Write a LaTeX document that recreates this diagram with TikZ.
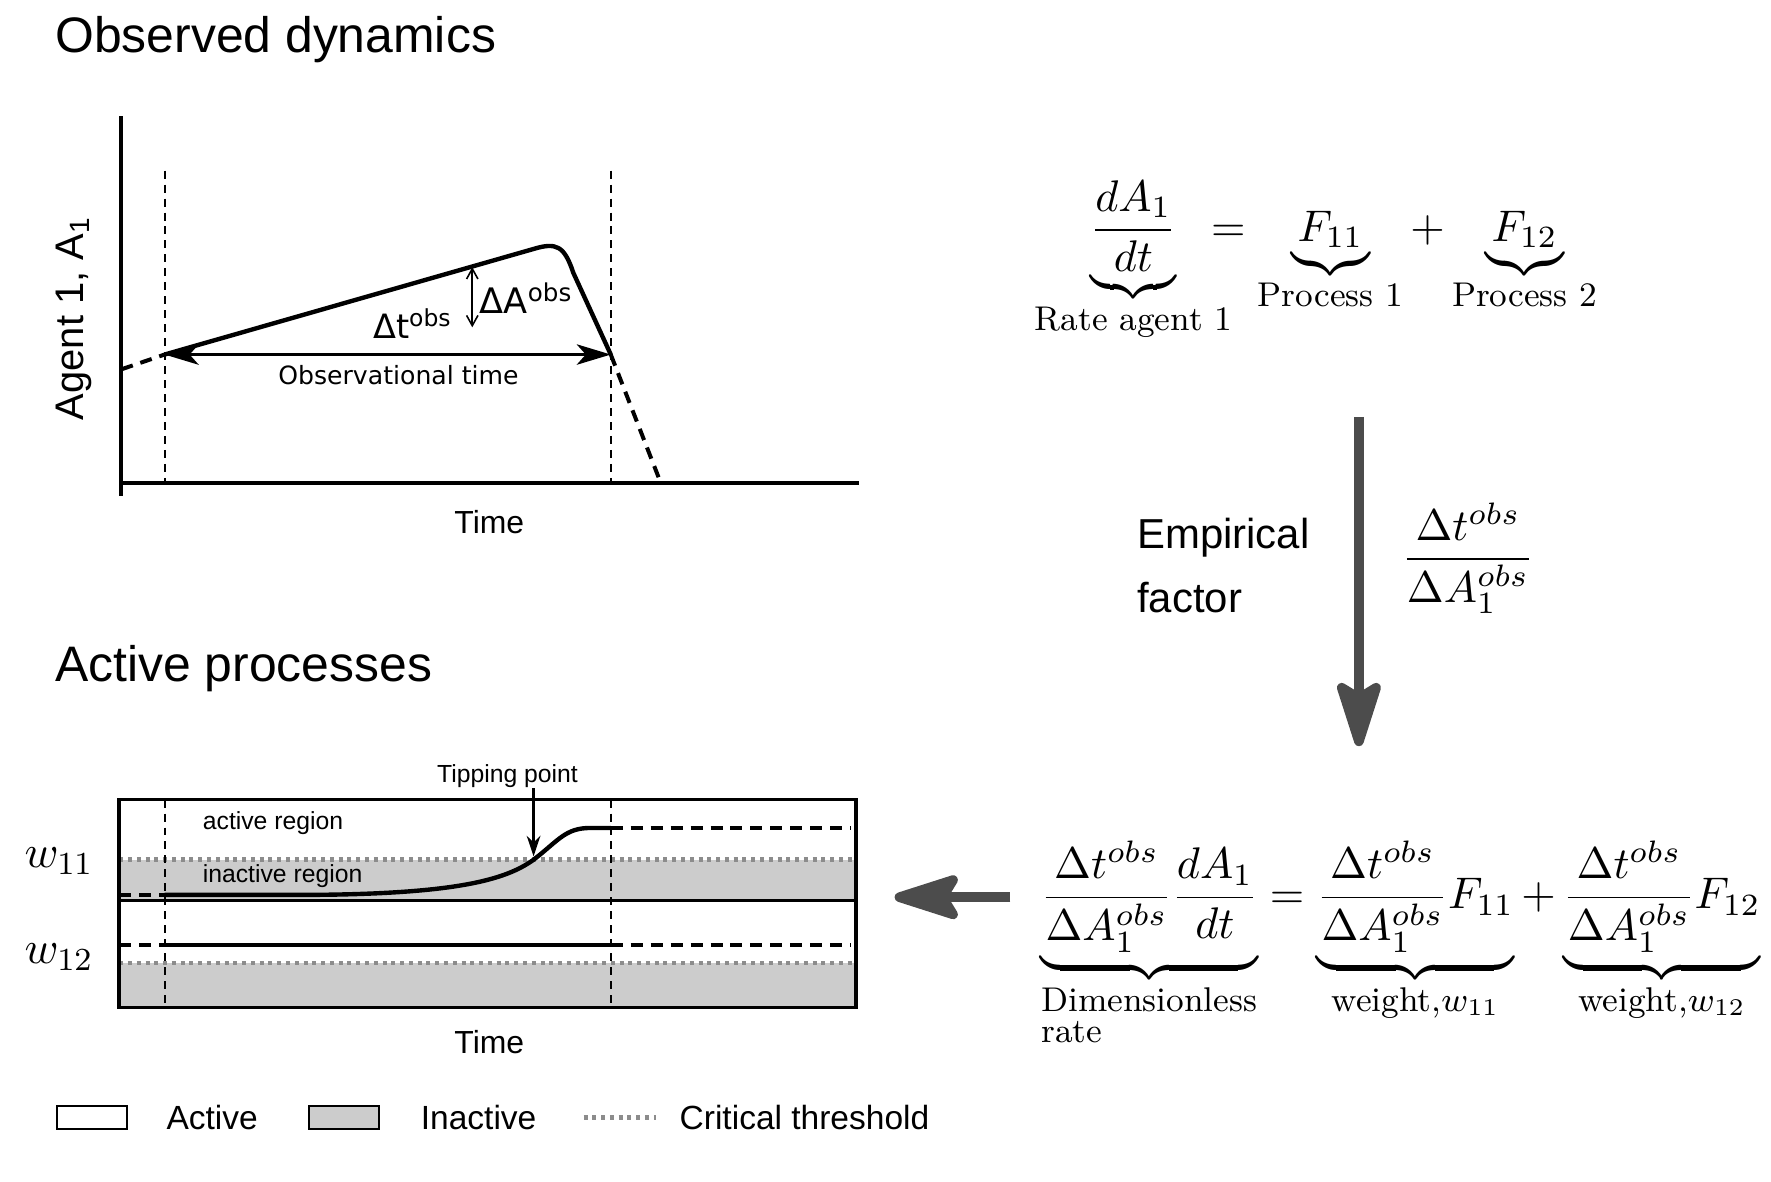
\RequirePackage{fix-cm}
\documentclass[tikz,border=0pt]{standalone}
\usepackage{amsmath}
\usepackage{mathtools}
\usepackage{fontspec}
\setsansfont{Liberation Sans}
\newfontfamily\dejavu{DejaVu Sans}
\usetikzlibrary{arrows.meta}
\tikzstyle{title}=[anchor=base west, inner sep=0pt, font=\sffamily\fontsize{12.5}{15}\selectfont]
\tikzstyle{lbl}=[inner sep=0pt, font=\sffamily\fontsize{6.2}{7.5}\selectfont]
\tikzstyle{dv}=[inner sep=0pt, font=\dejavu\fontsize{8.8}{10.5}\selectfont]
\tikzstyle{axlbl}=[inner sep=0pt, font=\sffamily\fontsize{8}{9.6}\selectfont]
\tikzstyle{leg}=[anchor=west, inner sep=0pt, font=\sffamily\fontsize{8.4}{10}\selectfont]
\tikzstyle{eq}=[inner sep=0pt, font=\fontsize{11.1}{13.5}\selectfont]
\tikzstyle{axis}=[line width=1pt]
\tikzstyle{frame}=[line width=.9pt]
\tikzstyle{guide}=[line width=.45pt, dash pattern=on 2pt off 1.5pt]
\tikzstyle{ext}=[line width=1pt, dash pattern=on 3pt off 2pt]
\tikzstyle{curve}=[line width=1.1pt, line join=round]
\tikzstyle{thr}=[line width=1.2pt, black!45, dash pattern=on 1pt off 1.2pt]
\tikzstyle{span}=[line width=.7pt, {Stealth[length=3mm,width=1.8mm,inset=.8mm]}-{Stealth[length=3mm,width=1.8mm,inset=.8mm]}]
\tikzstyle{tick}=[line width=.4pt, {Straight Barb[length=.9mm,width=1mm]}-{Straight Barb[length=.9mm,width=1mm]}]
\tikzstyle{bigarrow}=[line width=2.4pt, black!70, -{Stealth[length=7mm,width=4.4mm,inset=1.3mm,round]}]
\newcommand\brlabel[1]{\text{\fontsize{8.6}{10}\selectfont #1}}

\begin{document}
\begin{tikzpicture}
\useasboundingbox (0,0) rectangle (15.6,10.403);
% observed dynamics
\node[title] (obstitle) at (0.48,9.94) {Observed dynamics};
\draw[axis] (1.07,9.38) -- (1.07,6.03);
\draw[axis] (1.07,6.15) -- (7.57,6.15);
\foreach \x in {1.45, 5.38}
  \draw[guide] (\x,8.90) -- (\x,6.15);
\draw[ext] (1.07,7.15) -- (1.45,7.28);
\draw[curve] (1.45,7.28) -- (4.70,8.21) .. controls (4.90,8.27) and (4.97,8.24) .. (5.05,8.0) -- (5.38,7.28);
\draw[ext] (5.38,7.28) -- (5.82,6.15);
\coordinate (obs0) at (1.45,7.28);
\coordinate (obs1) at (5.38,7.28);
\draw[span] (obs0) -- (obs1);
\node[dv, font=\dejavu\fontsize{6.3}{7.5}\selectfont] (obstime) at (3.51,7.10) {Observational time};
\coordinate (da0) at (4.16,8.05);
\coordinate (da1) at (4.16,7.52);
\draw[tick] (da0) -- (da1);
\node[dv, anchor=base west] (dA) at (4.22,7.64) {ΔA\textsuperscript{obs}};
\node[dv, anchor=base west, font=\dejavu\fontsize{8.4}{10}\selectfont] (dt) at (3.28,7.42) {Δt\textsuperscript{obs}};
\node[inner sep=0pt, rotate=90, font=\sffamily\fontsize{10}{12}\selectfont] (agent) at (0.65,7.60) {Agent 1, A\textsubscript{1}};
\node[axlbl] (time1) at (4.31,5.80) {Time};

% active processes
\node[title] (acttitle) at (0.48,4.40) {Active processes};
\fill[black!20] (1.05,2.47) rectangle (7.54,2.83);
\fill[black!20] (1.05,1.53) rectangle (7.54,1.92);
\foreach \y in {2.83, 1.92}
  \draw[thr] (1.05,\y) -- (7.54,\y);
\foreach \x in {1.45, 5.38}
  \draw[guide] (\x,3.36) -- (\x,1.53);
\draw[ext] (1.05,2.52) -- (1.45,2.52);
\draw[curve] (1.45,2.52) -- (2.60,2.52) .. controls (4.00,2.52) and (4.45,2.65) .. (4.70,2.83)
  .. controls (4.92,3.00) and (4.98,3.11) .. (5.20,3.11) -- (5.38,3.11);
\draw[ext] (5.38,3.11) -- (7.50,3.11);
\draw[ext] (1.05,2.08) -- (1.45,2.08);
\draw[curve] (1.45,2.08) -- (5.38,2.08);
\draw[ext] (5.38,2.08) -- (7.50,2.08);
\draw[frame] (1.05,1.53) rectangle (7.54,3.36);
\draw[frame] (1.05,2.47) -- (7.54,2.47);
\node[lbl, anchor=base west] (actreg) at (1.78,3.10) {active region};
\node[lbl, anchor=base west] (inactreg) at (1.78,2.63) {inactive region};
\node[lbl] (tip) at (4.47,3.57) {Tipping point};
\coordinate (tipend) at (4.70,2.86);
\draw[line width=.7pt, -{Stealth[length=1.8mm,width=1.2mm]}] (tip.south -| tipend) -- (tipend);
\node[eq, font=\fontsize{11.5}{13.5}\selectfont] (w11) at (0.52,2.82) {$w_{11}$};
\node[eq, font=\fontsize{11.5}{13.5}\selectfont] (w12) at (0.52,1.97) {$w_{12}$};
\node[axlbl] (time2) at (4.31,1.22) {Time};

% legend
\node[draw, line width=.5pt, minimum width=6.2mm, minimum height=2.1mm, inner sep=0pt] (legact) at (0.81,0.56) {};
\node[leg] (legacttxt) at (1.46,0.555) {Active};
\node[draw, fill=black!20, line width=.5pt, minimum width=6.2mm, minimum height=2.1mm, inner sep=0pt] (leginact) at (3.03,0.56) {};
\node[leg] (leginacttxt) at (3.70,0.555) {Inactive};
\coordinate (legthr0) at (5.14,0.56);
\coordinate (legthr1) at (5.78,0.56);
\draw[thr] (legthr0) -- (legthr1);
\node[leg] (legthrtxt) at (5.98,0.555) {Critical threshold};

% equations
\node[eq, anchor=base west] (rate) at (9.60,8.28)
  {$\displaystyle \underbrace{\frac{dA_1}{dt}}_{\mathclap{\brlabel{Rate agent 1}}}\hspace{2mm} = \underbrace{F_{11}}_{\brlabel{Process 1}} + \underbrace{F_{12}}_{\brlabel{Process 2}}$};
\node[inner sep=0pt, anchor=west, align=left, font=\sffamily\fontsize{10.5}{16}\selectfont] (emp) at (10.01,5.42) {Empirical\\factor};
\node[eq, anchor=base] (factor) at (12.93,5.38) {$\displaystyle\frac{\Delta t^{obs}}{\Delta A_1^{obs}}$};
\node[eq, anchor=base west] (rate2) at (9.16,2.40)
  {$\displaystyle \underbrace{\frac{\Delta t^{obs}}{\Delta A_1^{obs}}\frac{dA_1}{dt}}_{\brlabel{\vtop{\baselineskip=7.7pt\hbox{Dimensionless}\hbox{rate}}}}
   = \underbrace{\frac{\Delta t^{obs}}{\Delta A_1^{obs}}F_{11}}_{\brlabel{weight,$w_{11}$}}
   + \underbrace{\frac{\Delta t^{obs}}{\Delta A_1^{obs}}F_{12}}_{\brlabel{weight,$w_{12}$}}$};
\coordinate (down0) at (11.97,6.73);
\coordinate (down1) at (11.97,3.83);
\draw[bigarrow] (down0) -- (down1);
\coordinate (left0) at (8.90,2.50);
\coordinate (left1) at (7.88,2.50);
\draw[bigarrow] (left0) -- (left1);
\end{tikzpicture}
\end{document}
